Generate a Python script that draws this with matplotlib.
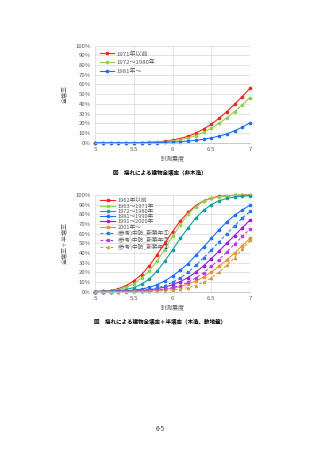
import numpy as np
import matplotlib
matplotlib.use("Agg")
import matplotlib.pyplot as plt

plt.rcParams['font.family'] = ['Noto Sans CJK JP', 'DejaVu Sans']

# ---- data ----
x = [5.0, 5.1, 5.2, 5.3, 5.4, 5.5, 5.6, 5.7, 5.8, 5.9, 6.0,
     6.1, 6.2, 6.3, 6.4, 6.5, 6.6, 6.7, 6.8, 6.9, 7.0]

# Chart 1: non-wooden, total collapse rate (%)
c1_labels = ["1971年以前", "1972～1980年", "1981年～"]
c1_pre1971 = [0, 0, 0, 0, 0, 0.1, 0.2, 0.4, 0.8, 1.5, 2.7,
              4.3, 6.6, 9.8, 14.0, 19.0, 25.0, 32.0, 39.5, 47.5, 56.0]
c1_1972_1980 = [0, 0, 0, 0, 0, 0.1, 0.2, 0.3, 0.6, 1.1, 2.0,
                3.2, 4.9, 7.3, 10.6, 14.8, 19.8, 25.6, 32.0, 39.0, 46.5]
c1_post1981 = [0, 0, 0, 0, 0, 0, 0.05, 0.1, 0.2, 0.4, 0.7,
               1.1, 1.7, 2.5, 3.5, 5.0, 6.8, 9.0, 12.2, 16.0, 20.5]

# Chart 2: wooden, soft ground, total + half collapse rate (%)
c2_labels = ["1962年以前", "1963～1971年", "1972～1980年", "1981～1990年",
             "1991～2000年", "2001年～", "(参考)中防_新築年①",
             "(参考)中防_新築年②", "(参考)中防_新築年③"]
c2_pre1962 = [0, 0.3, 1.0, 2.8, 6.0, 11.0, 17.5, 26.5, 38.0, 50.0, 62.0,
              73.0, 82.0, 89.0, 94.0, 97.0, 98.5, 99.3, 99.7, 99.9, 100.0]
c2_1963_1971 = [0, 0.2, 0.7, 2.0, 4.2, 8.0, 14.0, 21.5, 31.5, 43.5, 57.0,
                69.0, 80.0, 88.0, 93.5, 96.5, 98.0, 99.0, 99.5, 99.8, 99.9]
c2_1972_1980 = [0, 0.1, 0.3, 0.8, 2.0, 4.0, 7.5, 13.0, 21.0, 31.5, 43.0,
                55.0, 66.0, 76.0, 84.0, 90.0, 94.0, 96.5, 98.0, 98.8, 99.3]
c2_1981_1990 = [0, 0, 0.1, 0.3, 0.7, 1.5, 2.5, 4.3, 7.0, 11.0, 16.0,
                22.0, 29.0, 37.5, 46.0, 55.0, 64.0, 72.0, 79.0, 84.5, 89.5]
c2_1991_2000 = [0, 0, 0, 0.1, 0.3, 0.6, 1.0, 1.7, 2.9, 4.6, 7.0,
                10.2, 14.5, 20.0, 26.5, 34.0, 42.0, 50.0, 58.0, 66.0, 74.0]
c2_post2001 = [0, 0, 0, 0, 0.1, 0.2, 0.4, 0.7, 1.2, 2.1, 3.4,
               5.2, 7.6, 10.8, 15.0, 20.0, 26.0, 32.5, 40.0, 47.5, 55.0]
c2_ref1 = [0, 0, 0, 0.1, 0.2, 0.5, 1.0, 2.0, 3.5, 6.0, 9.5,
           14.0, 20.0, 27.0, 35.0, 43.0, 51.5, 60.0, 68.0, 76.0, 83.0]
c2_ref2 = [0, 0, 0, 0, 0.1, 0.2, 0.4, 0.8, 1.4, 2.5, 4.0,
           6.2, 9.5, 14.0, 19.5, 26.0, 33.0, 41.0, 49.0, 57.0, 65.0]
c2_ref3 = [0, 0, 0, 0, 0, 0.1, 0.2, 0.3, 0.6, 1.0, 1.6,
           2.6, 4.0, 6.2, 9.5, 14.0, 20.0, 27.0, 35.0, 44.0, 53.0]

yticks = [0, 10, 20, 30, 40, 50, 60, 70, 80, 90, 100]
ytick_labels = [f"{v}%" for v in yticks]
xticks = [5, 5.5, 6, 6.5, 7]
xtick_labels = ["5", "5.5", "6", "6.5", "7"]

W, H = 320, 453
fig = plt.figure(figsize=(W / 100, H / 100), dpi=100)
fig.patch.set_facecolor("white")

tick_color = "#595959"
fs_tick = 4.3


def fx(px):
    return px / W


def fy(py):
    return 1 - py / H


def style_ax(ax, ylabel):
    ax.set_xlim(5, 7)
    ax.set_ylim(0, 100)
    ax.set_xticks(xticks)
    ax.set_xticklabels(xtick_labels)
    ax.set_yticks(yticks)
    ax.set_yticklabels(ytick_labels)
    ax.tick_params(axis="both", length=0, labelsize=fs_tick, colors=tick_color, pad=3)
    ax.grid(True, color="#D9D9D9", linewidth=0.5)
    ax.set_axisbelow(True)
    for s in ["top", "right", "left"]:
        ax.spines[s].set_visible(False)
    ax.spines["bottom"].set_color("#BFBFBF")
    ax.spines["bottom"].set_linewidth(0.6)
    ax.set_xlabel("計測震度", fontsize=fs_tick, color=tick_color, labelpad=3)
    ax.set_ylabel(ylabel, fontsize=fs_tick, color=tick_color, labelpad=6)


# ---- chart 1 ----
ax1 = fig.add_axes([fx(95), fy(142.7), fx(250) - fx(95), fy(45.5) - fy(142.7)])
c1_series = [c1_pre1971, c1_1972_1980, c1_post1981]
c1_colors = ["#FF2020", "#8FD14F", "#1E6FFF"]
for vals, lab, col in zip(c1_series, c1_labels, c1_colors):
    ax1.plot(x, vals, color=col, linewidth=0.8, marker="o", markersize=1.6,
             label=lab, clip_on=False)
style_ax(ax1, "全壊率")
leg1 = ax1.legend(loc="upper left", bbox_to_anchor=(0.02, 0.97), frameon=False,
                  fontsize=fs_tick, handlelength=2.2, handletextpad=0.4,
                  labelspacing=0.55, borderaxespad=0)
for t in leg1.get_texts():
    t.set_color(tick_color)

# ---- chart 2 ----
ax2 = fig.add_axes([fx(95), fy(291.5), fx(250) - fx(95), fy(195) - fy(291.5)])
c2_series = [c2_pre1962, c2_1963_1971, c2_1972_1980, c2_1981_1990,
             c2_1991_2000, c2_post2001, c2_ref1, c2_ref2, c2_ref3]
c2_colors = ["#FF2020", "#8FD14F", "#13A09A", "#1E6FFF", "#9B1FD6",
             "#F0903A", "#2E78E8", "#B040F0", "#C8A040"]
c2_styles = ["-", "-", "-", "-", "-", "-", (0, (2.5, 2)), (0, (2.5, 2)), (0, (2.5, 2))]
c2_markers = ["o", "o", "o", "o", "o", "*", "s", "s", "^"]
for vals, lab, col, ls, mk in zip(c2_series, c2_labels, c2_colors, c2_styles, c2_markers):
    ax2.plot(x, vals, color=col, linewidth=0.8, linestyle=ls, marker=mk,
             markersize=1.6 if mk != "*" else 2.4, label=lab, clip_on=False)
style_ax(ax2, "全壊率＋半壊率")
leg2 = ax2.legend(loc="upper left", bbox_to_anchor=(0.02, 0.99), frameon=False,
                  fontsize=4.1, handlelength=2.6, handletextpad=0.4,
                  labelspacing=0.05, borderaxespad=0)
for t in leg2.get_texts():
    t.set_color(tick_color)

# ---- captions ----
fig.text(0.5, fy(173), "図　揺れによる建物全壊率（非木造）", ha="center", va="center",
         fontsize=4.0, fontweight="bold", color="#000000")
fig.text(0.5, fy(322), "図　揺れによる建物全壊率＋半壊率（木造、軟地盤）", ha="center",
         va="center", fontsize=4.0, fontweight="bold", color="#000000")
fig.text(0.5, fy(429), "6-5", ha="center", va="center", fontsize=4.5, color="#333333")

fig.savefig("out.png", dpi=100, facecolor="white")
